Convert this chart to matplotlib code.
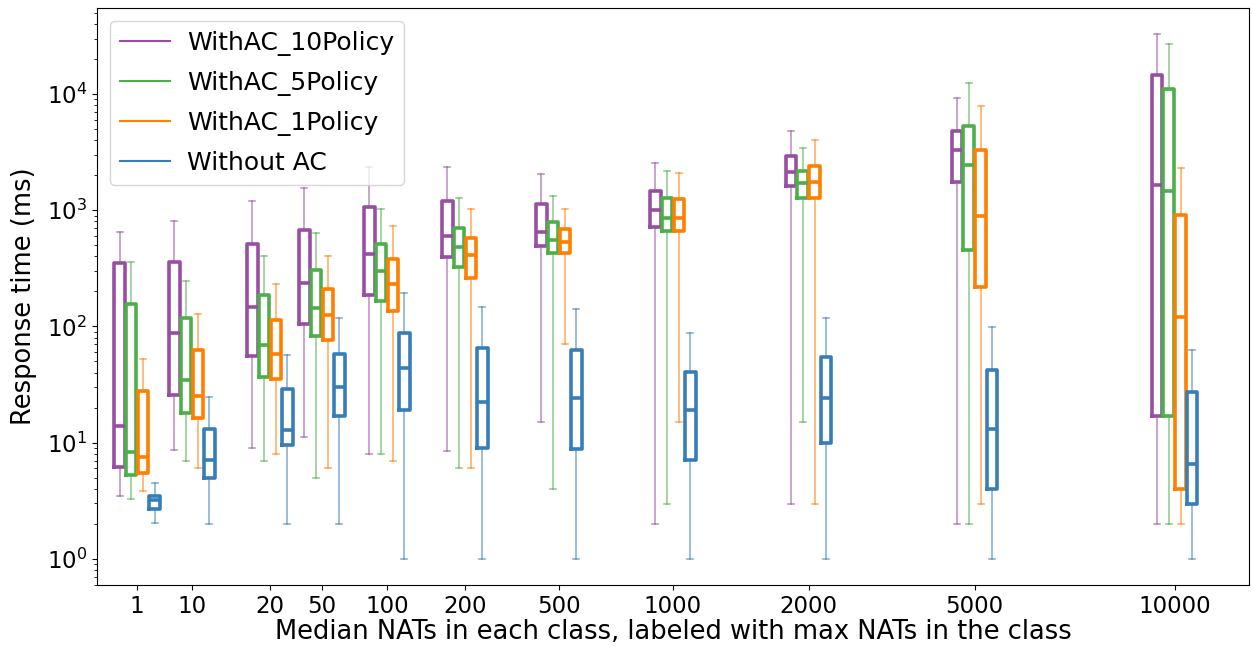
import matplotlib
matplotlib.use("Agg")
import matplotlib.pyplot as plt
from matplotlib.lines import Line2D

# class labels (max NATs in class)
classes = ['1', '10', '20', '50', '100', '200', '500', '1000', '2000', '5000', '10000']

# per class: (whisker low, q1, median, q3, whisker high) in ms
with_ac_10 = [(3.45, 6.2, 13.8, 353, 653), (8.6, 25.7, 87, 358, 802), (9.06, 56, 147, 516, 1200),
              (11.1, 105, 238, 679, 1553), (7.96, 187, 417, 1071, 2378), (8.4, 396, 601, 1191, 2360),
              (15.1, 489, 653, 1130, 2043), (2.0, 716, 1000, 1463, 2547), (2.97, 1614, 2154, 2918, 4786),
              (2.0, 1741, 3273, 4786, 9268), (2.0, 17, 1664, 14620, 32700)]
with_ac_5 = [(3.3, 5.25, 8.3, 157, 356), (7.0, 18.1, 34.3, 117, 247), (7.0, 37, 69.5, 187, 405),
             (5.0, 82, 145, 308, 634), (7.96, 165, 299, 516, 1023), (6.0, 322, 478, 700, 1265),
             (4.0, 430, 549, 790, 1315), (2.97, 658, 853, 1285, 2188), (15.1, 1285, 1714, 2188, 3451),
             (2.0, 454, 2469, 5322, 12470), (2.0, 17, 1451, 11120, 26850)]
with_ac_1 = [(3.84, 5.45, 7.5, 27.7, 52), (6.0, 16.3, 25.3, 62.4, 129), (7.96, 35, 58, 114, 231),
             (6.0, 76, 125, 209, 405), (7.0, 137, 232, 381, 732), (6.0, 262, 414, 578, 1031),
             (70.5, 430, 536, 684, 1031), (15.1, 658, 853, 1237, 2074), (2.97, 1285, 1741, 2414, 4049),
             (2.97, 217, 899, 3321, 7840), (2.0, 4.0, 120, 912, 2307)]
without_ac = [(2.03, 2.69, 3.18, 3.45, 4.5), (2.0, 5.0, 7.1, 13.0, 24.9), (2.0, 9.55, 12.9, 28.8, 57),
              (2.0, 16.9, 29.9, 58, 117), (1.0, 19.1, 44, 88.5, 192), (1.0, 9.06, 22.2, 65.3, 148),
              (1.0, 8.73, 24, 63, 142), (1.0, 7.05, 19.1, 40.5, 88.5), (1.0, 9.93, 24, 54.9, 119),
              (1.0, 4.0, 13, 42.4, 99), (1.0, 2.97, 6.53, 27.3, 63)]

series = [('WithAC_10Policy', with_ac_10, '#984ea3'),
          ('WithAC_5Policy', with_ac_5, '#4daf4a'),
          ('WithAC_1Policy', with_ac_1, '#ff7f00'),
          ('Without AC', without_ac, '#377eb8')]

# layout: group centres and per-series offsets
class_pos = [137, 192, 270, 322, 387, 465, 559, 673, 809, 975, 1175]
offsets = [-17.5, -6, 6, 17.5]
box_w = 10.5

fig = plt.figure(figsize=(12.52, 6.47), dpi=100)
ax = fig.add_axes([0.0775, 0.0958, 0.9205, 0.8918])

handles = []
for (name, vals, col), off in zip(series, offsets):
    stats = [dict(whislo=v[0], q1=v[1], med=v[2], q3=v[3], whishi=v[4], fliers=[]) for v in vals]
    ax.bxp(stats, positions=[p + off for p in class_pos], widths=box_w,
           showfliers=False, manage_ticks=False, capwidths=6,
           boxprops=dict(color=col, linewidth=2.6),
           medianprops=dict(color=col, linewidth=2.6),
           whiskerprops=dict(color=col, linewidth=1.2, alpha=0.6),
           capprops=dict(color=col, linewidth=1.2, alpha=0.6))
    handles.append(Line2D([], [], color=col, linewidth=1.5, label=name))

ax.set_yscale('log')
ax.set_xlim(97, 1250)
ax.set_xticks(class_pos)
ax.set_xticklabels(classes)
ax.tick_params(labelsize=16.5)
ax.set_xlabel('Median NATs in each class, labeled with max NATs in the class', fontsize=18.5, labelpad=1)
ax.set_ylabel('Response time (ms)', fontsize=18.5, labelpad=7)
ax.legend(handles=handles, loc='upper left', fontsize=18, labelspacing=0.6, handletextpad=0.7)

fig.savefig('out.png', dpi=100)
